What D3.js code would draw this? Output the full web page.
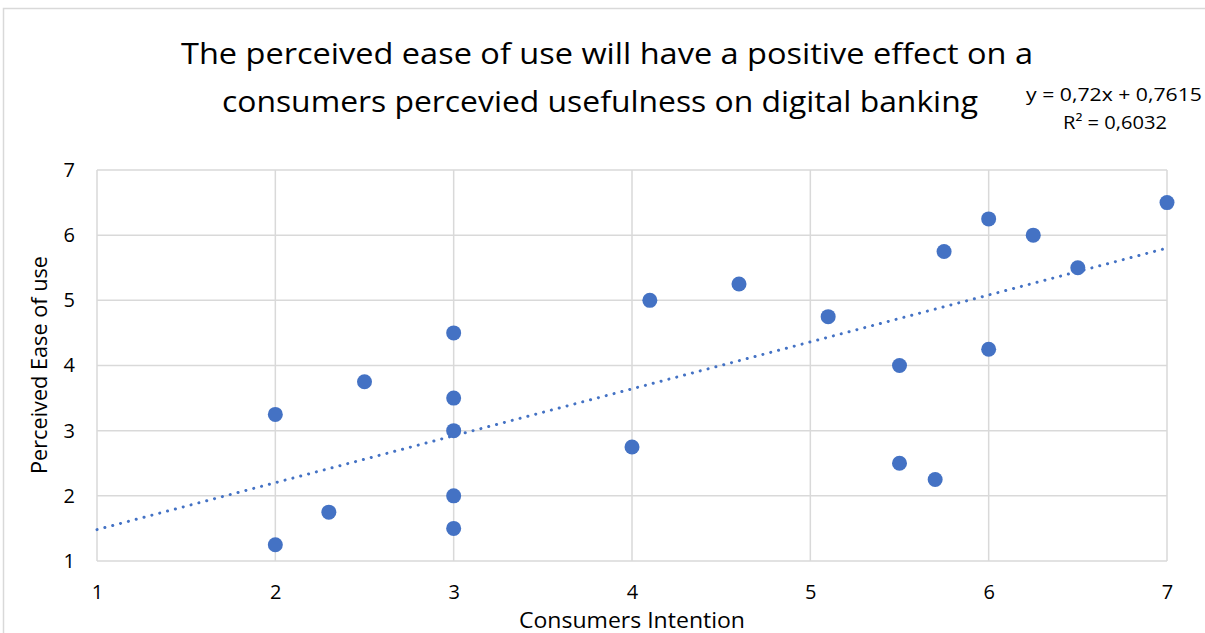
<!DOCTYPE html>
<html>
<head>
<meta charset="utf-8">
<script src="https://cdn.jsdelivr.net/npm/d3@7"></script>
<style>
  body { margin: 0; background: #fff; }
  svg { display: block; font-family: "Open Sans", "Noto Sans", sans-serif; }
</style>
</head>
<body>
<div id="chart"></div>
<script>
// consumers intention (x) vs perceived ease of use (y)
const intention = [2, 2, 2.3, 2.5, 3, 3, 3, 3, 3, 4, 4.1, 4.6, 5.1, 5.5, 5.5, 5.7, 5.75, 6, 6, 6.25, 6.5, 7];
const easeOfUse = [3.25, 1.25, 1.75, 3.75, 4.5, 3.5, 3, 2, 1.5, 2.75, 5, 5.25, 4.75, 4, 2.5, 2.25, 5.75, 6.25, 4.25, 6, 5.5, 6.5];
const xTicks = [1, 2, 3, 4, 5, 6, 7];
const yTicks = [1, 2, 3, 4, 5, 6, 7];
const slope = 0.72, intercept = 0.7615;
const titleLines = ["The perceived ease of use will have a positive effect on a", "consumers percevied usefulness on digital banking"];

const W = 1205, H = 633;
const margin = { top: 170, right: 38, bottom: 72, left: 97 };
const width = W - margin.left - margin.right;
const height = H - margin.top - margin.bottom;

const svg = d3.select("#chart").append("svg")
  .attr("width", W).attr("height", H);

// outer chart border
svg.append("rect")
  .attr("x", 3.5).attr("y", 8.5).attr("width", W + 10).attr("height", H)
  .attr("fill", "none").attr("stroke", "#d9d9d9").attr("stroke-width", 1.5);

const g = svg.append("g").attr("transform", `translate(${margin.left},${margin.top})`);

const x = d3.scaleLinear().domain([1, 7]).range([0, width]);
const y = d3.scaleLinear().domain([1, 7]).range([height, 0]);

// gridlines
g.append("g").selectAll("line").data(xTicks).enter().append("line")
  .attr("x1", d => x(d)).attr("x2", d => x(d))
  .attr("y1", 0).attr("y2", height)
  .attr("stroke", "#d9d9d9").attr("stroke-width", 1.5);
g.append("g").selectAll("line").data(yTicks).enter().append("line")
  .attr("y1", d => y(d)).attr("y2", d => y(d))
  .attr("x1", 0).attr("x2", width)
  .attr("stroke", "#d9d9d9").attr("stroke-width", 1.5);

// axes (labels only)
const xAxis = g.append("g")
  .attr("transform", `translate(0,${height})`)
  .call(d3.axisBottom(x).tickValues(xTicks).tickSize(0).tickPadding(24).tickFormat(d3.format("d")));
const yAxis = g.append("g")
  .call(d3.axisLeft(y).tickValues(yTicks).tickSize(0).tickPadding(22).tickFormat(d3.format("d")));
[xAxis, yAxis].forEach(a => {
  a.select(".domain").remove();
  a.selectAll("text").attr("font-size", 20).attr("fill", "#000")
    .attr("font-family", "'Open Sans', 'Noto Sans', sans-serif");
});

// trendline
g.append("line")
  .attr("x1", x(1)).attr("y1", y(slope * 1 + intercept))
  .attr("x2", x(7)).attr("y2", y(slope * 7 + intercept))
  .attr("stroke", "#4472c4").attr("stroke-width", 3)
  .attr("stroke-linecap", "round").attr("stroke-dasharray", "0.1 8");

// points
g.append("g").selectAll("circle").data(intention).enter().append("circle")
  .attr("cx", d => x(d))
  .attr("cy", (d, i) => y(easeOfUse[i]))
  .attr("r", 7.5)
  .attr("fill", "#4472c4");

// title
svg.append("text").attr("x", 607).attr("y", 64).attr("text-anchor", "middle")
  .attr("font-size", 29).attr("textLength", 852).attr("lengthAdjust", "spacingAndGlyphs")
  .text(titleLines[0]);
svg.append("text").attr("x", 600).attr("y", 112).attr("text-anchor", "middle")
  .attr("font-size", 29).attr("textLength", 756).attr("lengthAdjust", "spacingAndGlyphs")
  .text(titleLines[1]);

// equation
svg.append("text").attr("x", 1114).attr("y", 101).attr("text-anchor", "middle")
  .attr("font-size", 18).attr("textLength", 176).attr("lengthAdjust", "spacingAndGlyphs")
  .text("y = 0,72x + 0,7615");
svg.append("text").attr("x", 1115).attr("y", 129).attr("text-anchor", "middle")
  .attr("font-size", 18).attr("textLength", 104).attr("lengthAdjust", "spacingAndGlyphs")
  .text("R² = 0,6032");

// axis titles
svg.append("text").attr("x", 632).attr("y", 628).attr("text-anchor", "middle")
  .attr("font-size", 21).attr("textLength", 226).attr("lengthAdjust", "spacingAndGlyphs")
  .text("Consumers Intention");
svg.append("text")
  .attr("transform", "translate(47,365) rotate(-90)")
  .attr("text-anchor", "middle")
  .attr("font-size", 21).attr("textLength", 218).attr("lengthAdjust", "spacingAndGlyphs")
  .text("Perceived Ease of use");
</script>
</body>
</html>
